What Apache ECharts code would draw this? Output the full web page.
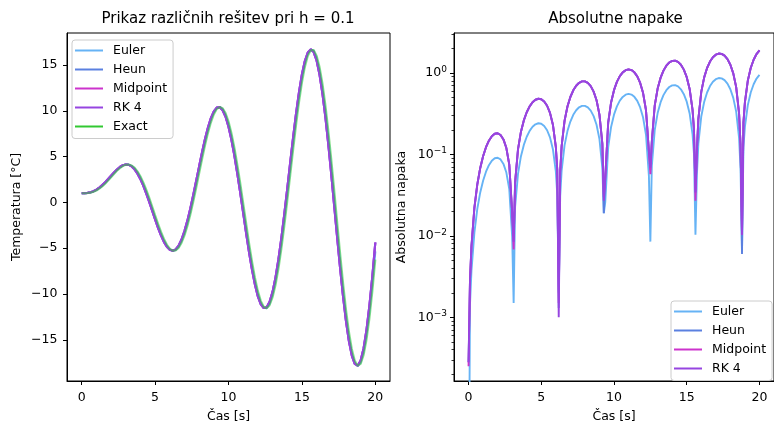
<!DOCTYPE html>
<html><head><meta charset="utf-8">
<script src="https://cdn.jsdelivr.net/npm/echarts@6/dist/echarts.min.js"></script>
<style>html,body{margin:0;padding:0;background:#fff}#c{width:774px;height:428px}</style>
</head><body><div id="c"></div>
<script>
// ---------- data ----------
const tSol = [
 0,0.2,0.4,0.6,0.8,1.0,1.2,1.4,1.6,1.8,
 2.0,2.2,2.4,2.6,2.8,3.0,3.2,3.4,3.6,3.8,
 4.0,4.2,4.4,4.6,4.8,5.0,5.2,5.4,5.6,5.8,
 6.0,6.2,6.4,6.6,6.8,7.0,7.2,7.4,7.6,7.8,
 8.0,8.2,8.4,8.6,8.8,9.0,9.2,9.4,9.6,9.8,
 10.0,10.2,10.4,10.6,10.8,11.0,11.2,11.4,11.6,11.8,
 12.0,12.2,12.4,12.6,12.8,13.0,13.2,13.4,13.6,13.8,
 14.0,14.2,14.4,14.6,14.8,15.0,15.2,15.4,15.6,15.8,
 16.0,16.2,16.4,16.6,16.8,17.0,17.2,17.4,17.6,17.8,
 18.0,18.2,18.4,18.6,18.8,19.0,19.2,19.4,19.6,19.8,
 20.0];
const exact = [
 1.00,1.00,1.02,1.07,1.16,1.30,1.50,1.75,2.05,2.38,
 2.74,3.10,3.45,3.74,3.97,4.11,4.14,4.03,3.79,3.39,
 2.86,2.19,1.40,0.52,-0.42,-1.38,-2.32,-3.20,-3.97,-4.60,
 -5.04,-5.26,-5.24,-4.96,-4.42,-3.62,-2.59,-1.35,0.06,1.58,
 3.15,4.72,6.22,7.57,8.72,9.61,10.19,10.42,10.28,9.75,
 8.85,7.59,6.01,4.16,2.12,-0.05,-2.25,-4.41,-6.41,-8.19,
 -9.66,-10.75,-11.39,-11.56,-11.22,-10.38,-9.05,-7.27,-5.10,-2.62,
 0.08,2.89,5.71,8.41,10.90,13.05,14.77,15.98,16.62,16.64,
 16.03,14.81,12.99,10.64,7.85,4.72,1.36,-2.10,-5.51,-8.73,
 -11.64,-14.10,-16.01,-17.27,-17.83,-17.64,-16.69,-15.01,-12.65,-9.70,
 -6.25];
const euler = [
 1.00,1.00,1.03,1.09,1.19,1.34,1.55,1.82,2.13,2.47,
 2.83,3.19,3.53,3.81,4.02,4.13,4.13,3.99,3.71,3.28,
 2.71,2.00,1.19,0.29,-0.66,-1.62,-2.55,-3.41,-4.15,-4.74,
 -5.12,-5.29,-5.20,-4.86,-4.25,-3.39,-2.30,-1.01,0.43,1.97,
 3.55,5.11,6.58,7.89,8.98,9.80,10.29,10.43,10.20,9.57,
 8.57,7.23,5.58,3.67,1.59,-0.60,-2.80,-4.93,-6.89,-8.60,
 -9.98,-10.97,-11.50,-11.54,-11.07,-10.10,-8.65,-6.77,-4.52,-1.97,
 0.77,3.60,6.40,9.07,11.48,13.53,15.14,16.21,16.70,16.57,
 15.80,14.42,12.47,10.00,7.11,3.90,0.50,-2.96,-6.34,-9.50,
 -12.31,-14.65,-16.41,-17.50,-17.87,-17.49,-16.36,-14.50,-11.99,-8.89,
 -5.34];
const rk4 = [
 1.00,1.01,1.04,1.11,1.22,1.39,1.62,1.89,2.21,2.56,
 2.92,3.28,3.60,3.87,4.06,4.14,4.10,3.93,3.61,3.14,
 2.54,1.81,0.97,0.06,-0.90,-1.85,-2.77,-3.60,-4.31,-4.85,
 -5.18,-5.28,-5.13,-4.72,-4.05,-3.13,-1.99,-0.66,0.81,2.36,
 3.94,5.48,6.92,8.18,9.20,9.94,10.35,10.40,10.06,9.35,
 8.26,6.83,5.11,3.16,1.04,-1.15,-3.34,-5.44,-7.34,-8.97,
 -10.26,-11.13,-11.54,-11.45,-10.86,-9.77,-8.21,-6.23,-3.89,-1.29,
 1.48,4.31,7.08,9.69,12.02,13.97,15.44,16.37,16.71,16.42,
 15.50,13.97,11.88,9.30,6.32,3.05,-0.37,-3.82,-7.15,-10.23,
 -12.93,-15.13,-16.73,-17.64,-17.83,-17.26,-15.94,-13.91,-11.24,-8.02,
 -4.38];
// Heun and Midpoint coincide with RK 4 at this scale
const heun = rk4.slice();
const midpoint = rk4.slice();

const tErr = [
 0,0.1,0.2,0.4,0.6,0.8,1.0,1.2,1.4,1.6,
 1.8,2.0,2.2,2.4,2.6,2.8,3.0,3.1,3.2,3.4,
 3.6,3.8,4.0,4.2,4.4,4.6,4.8,5.0,5.2,5.4,
 5.6,5.8,6.0,6.1,6.2,6.3,6.4,6.6,6.8,7.0,
 7.2,7.4,7.6,7.8,8.0,8.2,8.4,8.6,8.8,9.0,
 9.2,9.3,9.4,9.6,9.8,10.0,10.2,10.4,10.6,10.8,
 11.0,11.2,11.4,11.6,11.8,12.0,12.2,12.4,12.5,12.6,
 12.8,13.0,13.2,13.4,13.6,13.8,14.0,14.2,14.4,14.6,
 14.8,15.0,15.2,15.4,15.5,15.6,15.7,15.8,16.0,16.2,
 16.4,16.6,16.8,17.0,17.2,17.4,17.6,17.8,18.0,18.2,
 18.4,18.6,18.7,18.8,18.9,19.0,19.2,19.4,19.6,19.8,
 20.0];
const eulerErr = [
 1e-6,0.00145,0.0037,0.0109,0.0213,0.0339,0.0476,0.0614,0.0738,0.0837,
 0.0897,0.0910,0.0868,0.0765,0.0599,0.0375,0.0097,0.0015,0.0225,0.0577,
 0.0945,0.1308,0.1649,0.1948,0.2186,0.2346,0.2414,0.2379,0.2235,0.1981,
 0.1619,0.1161,0.0619,0.0323,0.0020,0.0306,0.0632,0.1292,0.1936,0.2537,
 0.3064,0.3491,0.3793,0.3951,0.3951,0.3784,0.3449,0.2954,0.2312,0.1543,
 0.0676,0.0190,0.0259,0.1222,0.2175,0.3078,0.3889,0.4571,0.5091,0.5421,
 0.5538,0.5432,0.5098,0.4542,0.3780,0.2836,0.1744,0.0545,0.0085,0.0717,
 0.1989,0.3220,0.4357,0.5351,0.6155,0.6732,0.7051,0.7091,0.6842,0.6307,
 0.5501,0.4448,0.3185,0.1759,0.1002,0.0103,0.0565,0.1359,0.2928,0.4417,
 0.5763,0.6909,0.7801,0.8398,0.8668,0.8592,0.8166,0.7398,0.6314,0.4949,
 0.3353,0.1586,0.0660,0.0065,0.1234,0.2181,0.4031,0.5756,0.7284,0.8549,
 0.9493];
const rk4Err = [
 2.8e-4,0.0029,0.0074,0.0219,0.0426,0.0677,0.0952,0.1227,0.1476,0.1673,
 0.1794,0.1820,0.1735,0.1529,0.1198,0.0749,0.0193,0.0085,0.0450,0.1154,
 0.1889,0.2616,0.3298,0.3896,0.4371,0.4692,0.4828,0.4758,0.4470,0.3961,
 0.3238,0.2321,0.1238,0.0646,0.0010,0.0611,0.1264,0.2583,0.3872,0.5074,
 0.6128,0.6982,0.7586,0.7902,0.7901,0.7567,0.6898,0.5908,0.4623,0.3086,
 0.1351,0.0270,0.0517,0.2444,0.4350,0.6155,0.7778,0.9142,1.0182,1.0841,
 1.1076,1.0863,1.0195,0.9083,0.7559,0.5672,0.3488,0.1089,0.0690,0.1434,
 0.3978,0.6440,0.8714,1.0701,1.2310,1.3464,1.4101,1.4181,1.3683,1.2614,
 1.1001,0.8895,0.6370,0.3518,0.2003,0.0340,0.1130,0.2718,0.5855,0.8833,
 1.1526,1.3817,1.5601,1.6795,1.7335,1.7183,1.6331,1.4796,1.2627,0.9897,
 0.6705,0.3171,0.1319,0.0103,0.2467,0.4362,0.8062,1.1512,1.4568,1.7097,
 1.8985];
const heunErr = [
 2.8e-4,0.0029,0.0074,0.0219,0.0426,0.0677,0.0952,0.1227,0.1476,0.1673,
 0.1794,0.1820,0.1735,0.1529,0.1198,0.0749,0.0193,0.0085,0.0450,0.1154,
 0.1889,0.2616,0.3298,0.3896,0.4371,0.4692,0.4828,0.4758,0.4470,0.3961,
 0.3238,0.2321,0.1238,0.0646,0.0013,0.0611,0.1264,0.2583,0.3872,0.5074,
 0.6128,0.6982,0.7586,0.7902,0.7901,0.7567,0.6898,0.5908,0.4623,0.3086,
 0.1351,0.0190,0.0517,0.2444,0.4350,0.6155,0.7778,0.9142,1.0182,1.0841,
 1.1076,1.0863,1.0195,0.9083,0.7559,0.5672,0.3488,0.1089,0.0650,0.1434,
 0.3978,0.6440,0.8714,1.0701,1.2310,1.3464,1.4101,1.4181,1.3683,1.2614,
 1.1001,0.8895,0.6370,0.3518,0.2003,0.0340,0.1130,0.2718,0.5855,0.8833,
 1.1526,1.3817,1.5601,1.6795,1.7335,1.7183,1.6331,1.4796,1.2627,0.9897,
 0.6705,0.3171,0.1319,0.0060,0.2467,0.4362,0.8062,1.1512,1.4568,1.7097,
 1.8985];
const midErr = [
 2.5e-4,0.0029,0.0074,0.0219,0.0426,0.0677,0.0952,0.1227,0.1476,0.1673,
 0.1794,0.1820,0.1735,0.1529,0.1198,0.0749,0.0193,0.0068,0.0450,0.1154,
 0.1889,0.2616,0.3298,0.3896,0.4371,0.4692,0.4828,0.4758,0.4470,0.3961,
 0.3238,0.2321,0.1238,0.0646,0.0015,0.0611,0.1264,0.2583,0.3872,0.5074,
 0.6128,0.6982,0.7586,0.7902,0.7901,0.7567,0.6898,0.5908,0.4623,0.3086,
 0.1351,0.0300,0.0517,0.2444,0.4350,0.6155,0.7778,0.9142,1.0182,1.0841,
 1.1076,1.0863,1.0195,0.9083,0.7559,0.5672,0.3488,0.1089,0.0570,0.1434,
 0.3978,0.6440,0.8714,1.0701,1.2310,1.3464,1.4101,1.4181,1.3683,1.2614,
 1.1001,0.8895,0.6370,0.3518,0.2003,0.0270,0.1130,0.2718,0.5855,0.8833,
 1.1526,1.3817,1.5601,1.6795,1.7335,1.7183,1.6331,1.4796,1.2627,0.9897,
 0.6705,0.3171,0.1319,0.0103,0.2467,0.4362,0.8062,1.1512,1.4568,1.7097,
 1.8985];

const xTicks = [0, 5, 10, 15, 20];
const yTicksLeft = [-15, -10, -5, 0, 5, 10, 15];
const yTicksRight = [0.001, 0.01, 0.1, 1];
const yMinorRight = [2e-4,3e-4,4e-4,5e-4,6e-4,7e-4,8e-4,9e-4,
  2e-3,3e-3,4e-3,5e-3,6e-3,7e-3,8e-3,9e-3,
  0.02,0.03,0.04,0.05,0.06,0.07,0.08,0.09,
  0.2,0.3,0.4,0.5,0.6,0.7,0.8,0.9,2,3];

// ---------- chart ----------
const FONT = 'DejaVu Sans';
const COL = {Euler:'#66b3f5', Heun:'#5b80e0', Midpoint:'#cc33cc', 'RK 4':'#9645e0', Exact:'#32c832'};
const txt = {fontFamily: FONT, fontSize: 12.5, color: '#000'};

function pairs(xs, ys) { return xs.map((x, i) => [x, ys[i]]); }
function line(name, xs, ys, gi, yi, opacity, width) {
  return {
    name, type: 'line', xAxisIndex: gi, yAxisIndex: yi,
    data: pairs(xs, ys), showSymbol: false, symbol: 'none', clip: true,
    lineStyle: {width: width || 1.9, color: COL[name], opacity: opacity == null ? 1 : opacity},
    itemStyle: {color: COL[name]}, emphasis: {disabled: true}
  };
}
function xAx(gi) {
  return {
    gridIndex: gi, type: 'value', min: -1, max: 21,
    axisLine: {show: true, onZero: false, lineStyle: {color: '#000', width: 1}},
    axisTick: {show: true, length: 4, customValues: xTicks, lineStyle: {color: '#000', width: 1}},
    axisLabel: Object.assign({customValues: xTicks, margin: 10}, txt),
    splitLine: {show: false},
    name: 'Čas [s]', nameLocation: 'middle', nameGap: 29, nameTextStyle: txt
  };
}
function legend(names, left, top) {
  return {
    data: names, orient: 'vertical', left, top, icon: 'rect',
    itemWidth: 28, itemHeight: 2, itemGap: 5,
    padding: [3.5, 6, 5, 3],
    backgroundColor: 'rgba(255,255,255,0.8)', borderColor: '#cccccc', borderWidth: 1, borderRadius: 3,
    textStyle: Object.assign({lineHeight: 14, padding: [0, 0, 0, 5]}, txt),
    selectedMode: false
  };
}
function sup(v) {
  const e = Math.round(Math.log10(v));
  return '{b|10}{e|' + (e < 0 ? '\u2212' + (-e) : e) + '}';
}

const chart = echarts.init(document.getElementById('c'), null, {renderer: 'canvas'});
chart.setOption({
  animation: false,
  backgroundColor: '#fff',
  title: [
    {text: 'Prikaz različnih rešitev pri h = 0.1', left: 228, top: 12, textAlign: 'center', padding: 0,
     textStyle: {fontFamily: FONT, fontSize: 15, fontWeight: 'normal', color: '#000'}},
    {text: 'Absolutne napake', left: 615.5, top: 12, textAlign: 'center', padding: 0,
     textStyle: {fontFamily: FONT, fontSize: 15, fontWeight: 'normal', color: '#000'}}
  ],
  grid: [
    {left: 67, top: 33, width: 323, height: 353, show: true, borderColor: '#000', borderWidth: 1, containLabel: false},
    {left: 454, top: 33, width: 323, height: 353, show: true, borderColor: '#000', borderWidth: 1, containLabel: false}
  ],
  legend: [
    legend(['Euler', 'Heun', 'Midpoint', 'RK 4', 'Exact'], 72, 40),
    legend(['Euler', 'Heun', 'Midpoint', 'RK 4'], 671, 301)
  ],
  xAxis: [xAx(0), xAx(1)],
  yAxis: [
    {gridIndex: 0, type: 'value', min: -19.5, max: 18.5,
     axisLine: {show: true, onZero: false, lineStyle: {color: '#000', width: 1}},
     axisTick: {show: true, length: 4, customValues: yTicksLeft, lineStyle: {color: '#000'}},
     axisLabel: Object.assign({customValues: yTicksLeft, margin: 9.5,
       formatter: v => (v < 0 ? '\u2212' + (-v) : '' + v)}, txt),
     splitLine: {show: false},
     name: 'Temperatura [°C]', nameLocation: 'middle', nameGap: 44, nameTextStyle: txt},
    {gridIndex: 1, type: 'log', logBase: 10, min: 1.65e-4, max: 3.1,
     axisLine: {show: true, onZero: false, lineStyle: {color: '#000', width: 1}},
     axisTick: {show: true, length: 4, customValues: yTicksRight, lineStyle: {color: '#000'}},
     axisLabel: {customValues: yTicksRight, margin: 7, formatter: sup,
       rich: {b: {fontFamily: FONT, fontSize: 12.5, color: '#000', lineHeight: 16},
              e: {fontFamily: FONT, fontSize: 9, color: '#000', lineHeight: 9, verticalAlign: 'top'}}},
     splitLine: {show: false}, minorTick: {show: false},
     name: 'Absolutna napaka', nameLocation: 'middle', nameGap: 46, nameTextStyle: txt},
    {gridIndex: 1, type: 'log', logBase: 10, min: 1.65e-4, max: 3.1, position: 'left', offset: 0,
     axisLine: {show: false, onZero: false},
     axisTick: {show: true, length: 2.5, customValues: yMinorRight, lineStyle: {color: '#000', width: 0.8}},
     axisLabel: {show: false}, splitLine: {show: false}}
  ],
  series: [
    line('Euler', tSol, euler, 0, 0, 1, 2.1),
    line('Heun', tSol, heun, 0, 0, 1, 2.1),
    line('Midpoint', tSol, midpoint, 0, 0, 1, 2.1),
    line('RK 4', tSol, rk4, 0, 0, 1, 2.1),
    line('Exact', tSol, exact, 0, 0, 0.55, 2.1),
    line('Euler', tErr, eulerErr, 1, 1),
    line('Heun', tErr, heunErr, 1, 1),
    line('Midpoint', tErr, midErr, 1, 1),
    line('RK 4', tErr, rk4Err, 1, 1)
  ]
});
</script>
</body></html>
